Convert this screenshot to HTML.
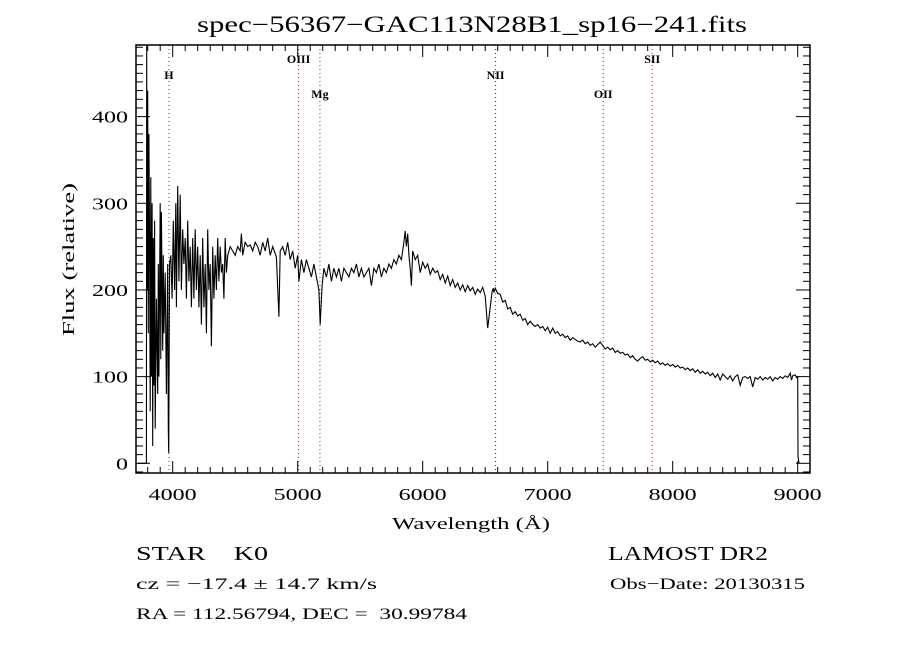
<!DOCTYPE html>
<html><head><meta charset="utf-8"><style>
body{margin:0;background:#fff;}
svg{display:block;font-family:"Liberation Serif",serif;}
</style></head><body>
<svg id="c" width="900" height="650" viewBox="0 0 900 650">
<rect width="900" height="650" fill="#fff"/>
<text x="197" y="32" font-size="23" textLength="550" lengthAdjust="spacingAndGlyphs">spec−56367−GAC113N28B1_sp16−241.fits</text>
<text x="392" y="529" font-size="17" textLength="158" lengthAdjust="spacingAndGlyphs">Wavelength (Å)</text>
<text transform="translate(74,336) rotate(-90)" font-size="17" textLength="153" lengthAdjust="spacingAndGlyphs">Flux (relative)</text>
<text x="136" y="560" font-size="20" textLength="132" lengthAdjust="spacingAndGlyphs" xml:space="preserve">STAR    K0</text>
<text x="608" y="560" font-size="20" textLength="160" lengthAdjust="spacingAndGlyphs">LAMOST DR2</text>
<text x="136" y="589" font-size="16" textLength="241" lengthAdjust="spacingAndGlyphs">cz = −17.4 ± 14.7 km/s</text>
<text x="610" y="589" font-size="16" textLength="195" lengthAdjust="spacingAndGlyphs">Obs−Date: 20130315</text>
<text x="136" y="619" font-size="16" textLength="331" lengthAdjust="spacingAndGlyphs" xml:space="preserve">RA = 112.56794, DEC =  30.99784</text>
<g id="g"></g>
</svg>
<script>
const waves=[3720,3790,3792,3795,3800,3805,3810,3815,3820,3825,3830,3835,3840,3845,3850,3855,3860,3870,3880,3885,3890,3900,3905,3910,3920,3925,3930,3940,3950,3960,3965,3968,3975,3985,3995,4005,4015,4025,4030,4040,4050,4060,4070,4080,4090,4100,4110,4120,4130,4140,4150,4160,4170,4180,4190,4200,4210,4220,4230,4240,4250,4260,4270,4280,4290,4300,4310,4320,4330,4340,4350,4360,4370,4380,4390,4400,4410,4420,4430,4440,4460,4480,4500,4520,4540,4550,4560,4580,4600,4620,4640,4660,4680,4700,4720,4740,4760,4780,4800,4830,4850,4860,4880,4900,4920,4940,4960,4980,5000,5010,5030,5050,5070,5090,5110,5130,5150,5170,5180,5185,5195,5210,5230,5250,5270,5290,5310,5330,5350,5370,5390,5410,5430,5450,5470,5490,5510,5530,5550,5570,5590,5610,5630,5650,5670,5690,5710,5730,5750,5770,5790,5810,5830,5850,5860,5870,5880,5890,5900,5910,5920,5940,5960,5980,6000,6020,6040,6060,6080,6100,6120,6140,6160,6180,6200,6220,6240,6260,6280,6300,6320,6340,6360,6380,6400,6420,6440,6460,6480,6500,6520,6540,6555,6565,6570,6580,6600,6620,6640,6660,6680,6700,6720,6740,6760,6780,6800,6820,6840,6860,6880,6900,6920,6940,6960,6980,7000,7020,7040,7060,7080,7100,7120,7140,7160,7180,7200,7220,7240,7260,7280,7300,7320,7340,7360,7380,7400,7420,7440,7460,7480,7500,7520,7540,7560,7580,7600,7620,7640,7660,7680,7700,7720,7740,7760,7780,7800,7820,7840,7860,7880,7900,7920,7940,7960,7980,8000,8020,8040,8060,8080,8100,8120,8140,8160,8180,8200,8220,8240,8260,8280,8300,8320,8340,8360,8380,8400,8420,8440,8460,8480,8500,8520,8540,8560,8580,8600,8620,8640,8660,8680,8700,8720,8740,8760,8780,8800,8820,8840,8860,8880,8900,8920,8940,8950,8960,8980,8990,9000,9002,9010];
const flux=[0,0,490,200,430,150,380,250,60,330,100,300,20,260,90,280,40,190,80,230,100,300,120,290,130,240,150,220,80,230,40,12,230,240,190,280,200,300,180,320,210,310,200,270,230,260,190,280,210,250,180,260,190,270,200,250,180,240,160,260,180,230,150,270,200,230,135,250,190,240,200,260,210,250,220,230,190,260,220,240,250,245,240,250,245,265,240,255,250,252,245,255,250,240,255,245,260,240,250,238,169,245,250,240,255,235,245,225,240,210,235,220,235,225,215,230,215,200,160,175,205,225,215,230,210,225,215,225,210,225,220,215,225,220,230,215,225,215,220,225,205,225,220,230,215,225,220,230,225,235,230,240,235,255,268,250,265,240,225,205,245,235,240,220,232,225,230,218,225,220,222,212,218,208,216,205,212,203,208,200,206,198,205,199,203,195,201,197,203,193,156,180,198,202,197,202,196,195,186,188,178,180,172,175,170,172,165,167,160,164,160,158,160,156,158,153,157,150,156,150,152,147,149,145,147,142,145,143,141,140,142,138,140,136,138,134,137,140,136,132,134,131,133,128,130,127,128,125,126,122,124,120,118,121,123,119,120,117,119,116,118,114,116,113,115,112,114,111,113,110,111,108,110,107,109,105,108,104,106,103,105,101,104,99,103,96,103,100,97,101,95,100,102,90,99,100,98,100,88,99,97,100,96,99,97,100,95,99,97,100,98,101,99,104,96,101,102,99,100,8,0];
const xTicks=[4000,5000,6000,7000,8000,9000];
const yTicks=[0,100,200,300,400];
const lineNames=["H","OIII","Mg","NII","OII","SII"];
const lineWaves=[3970,5007,5178,6583,7444,7836];
const lineLabelY=[79,63,98,79,98,63];

const L=136,R=810,T=45,B=473;
const X=w=>172.7+(w-4000)*0.125;
const Y=f=>463.3-f*0.8667;
const NS="http://www.w3.org/2000/svg";
const g=document.getElementById('g');
function mk(t,a){const e=document.createElementNS(NS,t);for(const k in a)e.setAttribute(k,a[k]);g.appendChild(e);return e;}

lineWaves.forEach((w,i)=>{
  const l=mk('line',{x1:X(w),x2:X(w),y1:T,y2:B,stroke:'#8b2a2a','stroke-width':1,'stroke-dasharray':'1,3'});
  
  
  const t=mk('text',{x:X(w),y:lineLabelY[i],'font-size':12,'font-weight':'bold','text-anchor':'middle'});
  t.textContent=lineNames[i];
  
  
});

const defs=document.createElementNS(NS,'defs');g.appendChild(defs);
const cp=document.createElementNS(NS,'clipPath');cp.setAttribute('id','cl');defs.appendChild(cp);
const cr=document.createElementNS(NS,'rect');cr.setAttribute('x',L);cr.setAttribute('y',T);cr.setAttribute('width',R-L);cr.setAttribute('height',B-T);cp.appendChild(cr);
let d='';waves.forEach((w,i)=>{d+=(i?'L':'M')+X(w).toFixed(1)+','+Y(flux[i]).toFixed(1);});
const sp=mk('path',{d:d,fill:'none',stroke:'#000','stroke-width':1.1,'clip-path':'url(#cl)'});



const fr=mk('rect',{x:L,y:T,width:R-L,height:B-T,fill:'none',stroke:'#000','stroke-width':1.5});



for(let w=3800;w<=9100;w+=100){
  const x=X(w);if(x<L||x>R)continue;
  const len=(w%1000===0)?12:6;
  mk('line',{x1:x,x2:x,y1:B,y2:B-len,stroke:'#000'});
  mk('line',{x1:x,x2:x,y1:T,y2:T+len,stroke:'#000'});
}
xTicks.forEach(w=>{
  const t=mk('text',{x:X(w)-24,y:500,'font-size':17,textLength:48,lengthAdjust:'spacingAndGlyphs'});
  t.textContent=w;
  
  
});
for(let f=-10;f<=480;f+=10){
  const y=Y(f);if(y<T||y>B)continue;
  const len=(f%100===0)?14:7;
  mk('line',{x1:L,x2:L+len,y1:y,y2:y,stroke:'#000'});
  mk('line',{x1:R,x2:R-len,y1:y,y2:y,stroke:'#000'});
}
yTicks.forEach(f=>{
  const s=String(f);
  const w=s.length*12;
  const t=mk('text',{x:128-w,y:Y(f)+6,'font-size':17,textLength:w,lengthAdjust:'spacingAndGlyphs'});
  t.textContent=s;
  
  
});
</script>
</body></html>
